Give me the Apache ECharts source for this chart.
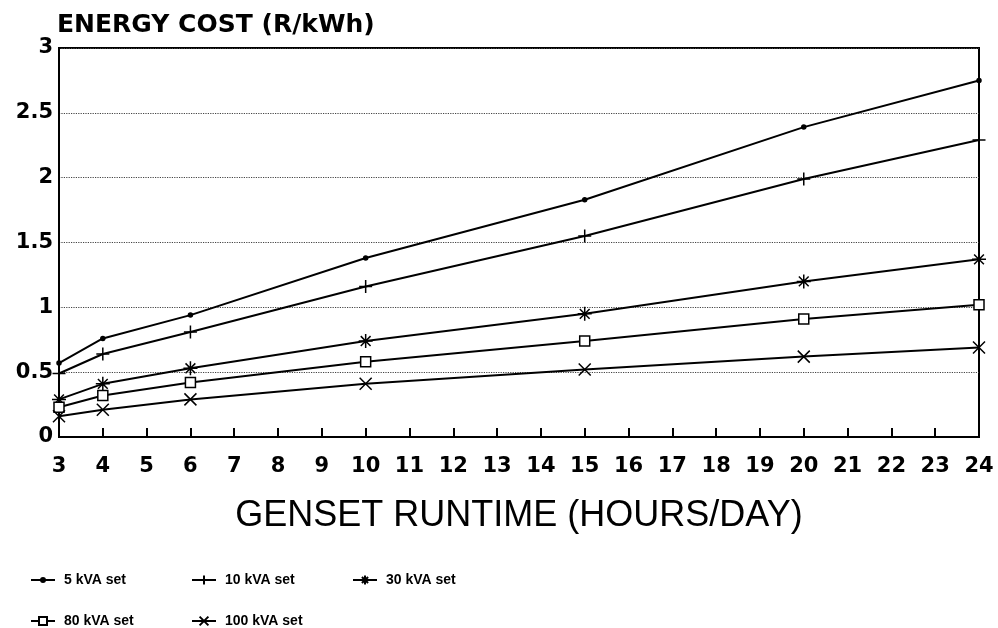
<!DOCTYPE html>
<html>
<head>
<meta charset="utf-8">
<style>
  html, body { margin: 0; padding: 0; background: #fff; }
  #main { width: 998px; height: 628px; }
</style>
<script src="https://cdn.jsdelivr.net/npm/echarts@6/dist/echarts.min.js"></script>
</head>
<body>
<div id="main"></div>
<script>
// runtime, hours/day
const hours = [3, 4, 6, 10, 15, 20, 24];
// energy cost in R/kWh
const kva5 = [0.57, 0.76, 0.94, 1.38, 1.83, 2.39, 2.75];
const kva10 = [0.49, 0.64, 0.81, 1.16, 1.55, 1.99, 2.29];
const kva30 = [0.29, 0.41, 0.53, 0.74, 0.95, 1.20, 1.37];
const kva80 = [0.23, 0.32, 0.42, 0.58, 0.74, 0.91, 1.02];
const kva100 = [0.16, 0.21, 0.29, 0.41, 0.52, 0.62, 0.69];
const names = ["5 kVA set", "10 kVA set", "30 kVA set", "80 kVA set", "100 kVA set"];

const font = "'Liberation Sans', Arial, sans-serif";
const wide = "'DejaVu Sans', sans-serif";
const pts = (ys) => hours.map((h, i) => [h, ys[i]]);

const plus = "path://M5,0V10M0,5H10";
const star = "path://M5,0V10M0,5H10M1.5,1.5L8.5,8.5M8.5,1.5L1.5,8.5";
const cross = "path://M0,0L10,10M10,0L0,10";

function line(name, ys, symbol, size, fill) {
  return {
    name: name,
    type: "line",
    data: pts(ys),
    symbol: symbol,
    symbolSize: size,
    lineStyle: { color: "#000", width: 2 },
    itemStyle: { color: fill, borderColor: "#000", borderWidth: 1.5 },
    emphasis: { disabled: true },
    animation: false,
  };
}

function legendAt(name, left, top, h) {
  return {
    data: [name],
    left: left,
    top: top,
    padding: 0,
    itemWidth: 24,
    itemHeight: h,
    selectedMode: false,
    textStyle: { fontFamily: font, fontWeight: "bold", fontSize: 14, color: "#000", padding: [0, 0, 0, 4] },
  };
}

const myChart = echarts.init(document.getElementById("main"));
const option = {
  backgroundColor: "#fff",
  grid: {
    left: 59,
    right: 19,
    top: 48,
    bottom: 191,
    show: true,
    borderColor: "#000",
    borderWidth: 2,
  },
  legend: [
    legendAt(names[0], 30, 573, 5),
    legendAt(names[1], 191, 573, 11),
    legendAt(names[2], 352, 573, 11),
    legendAt(names[3], 30, 614, 10),
    legendAt(names[4], 191, 614, 11),
  ],
  xAxis: {
    type: "value",
    min: 3,
    max: 24,
    interval: 1,
    name: "GENSET RUNTIME (HOURS/DAY)",
    nameLocation: "middle",
    nameGap: 61,
    nameTextStyle: { fontFamily: font, fontSize: 36, color: "#000" },
    axisLine: { lineStyle: { color: "#000", width: 2 } },
    axisTick: { inside: true, length: 9, lineStyle: { color: "#000", width: 2 } },
    axisLabel: { fontFamily: wide, fontWeight: "bold", fontSize: 21, color: "#000", margin: 19 },
    splitLine: { show: false },
  },
  yAxis: {
    type: "value",
    min: 0,
    max: 3,
    interval: 0.5,
    name: "ENERGY COST (R/kWh)",
    nameLocation: "end",
    nameGap: 10,
    nameTextStyle: { fontFamily: wide, fontWeight: "bold", fontSize: 25, color: "#000", align: "left", padding: [0, 0, 0, -2] },
    axisLine: { show: true, lineStyle: { color: "#000", width: 2 } },
    axisTick: { show: false },
    axisLabel: { fontFamily: wide, fontWeight: "bold", fontSize: 21, color: "#000", margin: 6 },
    splitLine: { lineStyle: { color: "#444", type: "dotted", width: 1.2 } },
  },
  series: [
    line(names[0], kva5, "circle", 4, "#000"),
    line(names[1], kva10, plus, 13, "#000"),
    line(names[2], kva30, star, 14, "#000"),
    line(names[3], kva80, "rect", 10, "#fff"),
    line(names[4], kva100, cross, 12, "#000"),
  ],
};
myChart.setOption(option);
</script>
</body>
</html>
